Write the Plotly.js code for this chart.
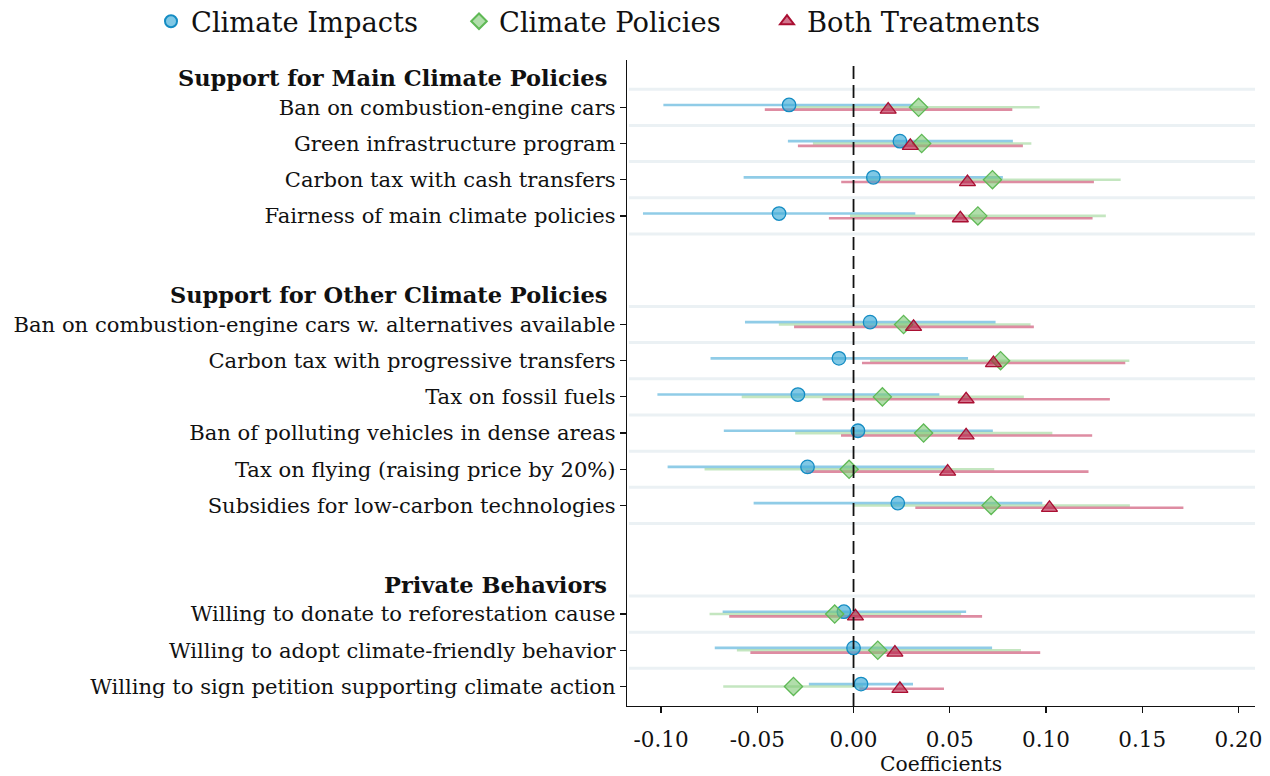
<!DOCTYPE html>
<html>
<head>
<meta charset="utf-8">
<script src="https://cdn.plot.ly/plotly-3.0.1.min.js"></script>
<style>html,body{margin:0;padding:0;background:#fff;}#chart{width:1270px;height:776px;}</style>
</head>
<body>
<div id="chart"></div>
<script>
// ---------- DATA ----------
const groupHeaders = ["Support for Main Climate Policies", "Support for Other Climate Policies", "Private Behaviors"];
const groupSizes = [4, 6, 3];
const outcomeLabels = [
  "Ban on combustion-engine cars",
  "Green infrastructure program",
  "Carbon tax with cash transfers",
  "Fairness of main climate policies",
  "Ban on combustion-engine cars w. alternatives available",
  "Carbon tax with progressive transfers",
  "Tax on fossil fuels",
  "Ban of polluting vehicles in dense areas",
  "Tax on flying (raising price by 20%)",
  "Subsidies for low-carbon technologies",
  "Willing to donate to reforestation cause",
  "Willing to adopt climate-friendly behavior",
  "Willing to sign petition supporting climate action"
];
const seriesNames = ["Climate Impacts", "Climate Policies", "Both Treatments"];

const impactsEst = [-0.0335, 0.0241, 0.0103, -0.0387, 0.0086, -0.0076, -0.0289, 0.0023, -0.0239, 0.0230, -0.0050, 0.0000, 0.0039];
const impactsLo  = [-0.0988, -0.0341, -0.0571, -0.1094, -0.0564, -0.0743, -0.1019, -0.0674, -0.0966, -0.0519, -0.0680, -0.0721, -0.0232];
const impactsHi  = [0.0310, 0.0828, 0.0776, 0.0321, 0.0738, 0.0595, 0.0446, 0.0724, 0.0490, 0.0981, 0.0585, 0.0720, 0.0309];

const policiesEst = [0.0338, 0.0354, 0.0722, 0.0646, 0.0260, 0.0764, 0.0150, 0.0364, -0.0023, 0.0715, -0.0098, 0.0126, -0.0312];
const policiesLo  = [-0.0300, -0.0211, 0.0064, -0.0018, -0.0388, 0.0086, -0.0581, -0.0303, -0.0774, -0.0003, -0.0748, -0.0606, -0.0677];
const policiesHi  = [0.0967, 0.0924, 0.1388, 0.1311, 0.0920, 0.1433, 0.0885, 0.1033, 0.0731, 0.1436, 0.0559, 0.0870, 0.0050];

const bothEst = [0.0180, 0.0295, 0.0592, 0.0555, 0.0312, 0.0727, 0.0585, 0.0585, 0.0489, 0.1018, 0.0010, 0.0215, 0.0241];
const bothLo  = [-0.0461, -0.0289, -0.0064, -0.0128, -0.0309, 0.0044, -0.0161, -0.0065, -0.0249, 0.0321, -0.0646, -0.0536, 0.0030];
const bothHi  = [0.0825, 0.0880, 0.1249, 0.1242, 0.0937, 0.1412, 0.1332, 0.1240, 0.1221, 0.1714, 0.0668, 0.0970, 0.0470];

const xTickVals = [-0.10, -0.05, 0.00, 0.05, 0.10, 0.15, 0.20];
const xTickText = ["-0.10", "-0.05", "0.00", "0.05", "0.10", "0.15", "0.20"];

// ---------- LAYOUT HELPERS ----------
const rowPos = [];
const headerPos = [];
let p = 0;
groupSizes.forEach((n) => {
  headerPos.push(p);
  for (let i = 0; i < n; i++) { p += 1; rowPos.push(p); }
  p += 2;
});

const FONT = "DejaVu Serif";
const off = 0.065;

const styles = [
  {sym: "circle", size: 13.5, fill: "rgba(60,170,215,0.65)", edge: "rgb(20,140,195)", bar: "rgba(70,170,215,0.6)", dy: -off},
  {sym: "diamond", size: 14, fill: "rgba(125,200,115,0.6)", edge: "rgb(95,185,85)", bar: "rgba(125,200,115,0.45)", dy: 0},
  {sym: "triangle-up", size: 14, fill: "rgba(180,25,65,0.6)", edge: "rgb(170,15,50)", bar: "rgba(195,45,85,0.55)", dy: off}
];
const ests = [impactsEst, policiesEst, bothEst];
const los = [impactsLo, policiesLo, bothLo];
const his = [impactsHi, policiesHi, bothHi];

const traces = [];
for (let s = 0; s < 3; s++) {
  traces.push({
    type: "scatter", mode: "markers",
    x: ests[s], y: rowPos.map(r => r + styles[s].dy),
    marker: {size: 1, color: "rgba(0,0,0,0)"},
    error_x: {type: "data", symmetric: false,
      array: his[s].map((h, i) => h - ests[s][i]),
      arrayminus: ests[s].map((e, i) => e - los[s][i]),
      color: styles[s].bar, thickness: 2.6, width: 0},
    showlegend: false, hoverinfo: "skip"
  });
}
for (let s = 0; s < 3; s++) {
  traces.push({
    type: "scatter", mode: "markers", name: seriesNames[s],
    x: ests[s], y: rowPos.map(r => r + styles[s].dy),
    marker: {symbol: styles[s].sym, size: styles[s].size, color: styles[s].fill,
      line: {color: styles[s].edge, width: 1.3}}
  });
}

const shapes = [];
groupSizes.forEach((n, g) => {
  const first = headerPos[g] + 1;
  for (let k = 0; k <= n; k++) {
    const yv = first - 0.5 + k;
    if (g === groupSizes.length - 1 && k === n) continue;
    shapes.push({type: "line", xref: "paper", yref: "y", x0: 0.003, x1: 1, y0: yv, y1: yv,
      line: {color: "#ebf1f4", width: 3}, layer: "below"});
  }
});
shapes.push({type: "line", xref: "x", yref: "paper", x0: 0, x1: 0, y0: 0, y1: 1,
  line: {color: "#111", width: 1.8, dash: "13px,6px"}, layer: "above"});

const annotations = groupHeaders.map((h, g) => ({
  xref: "paper", yref: "y", x: -0.0287, y: headerPos[g] + 0.19,
  xanchor: "right", yanchor: "middle", showarrow: false,
  text: "<b>" + h + "</b>", font: {family: FONT, size: 22.5, color: "#111"}
}));

const layout = {
  width: 1270, height: 776,
  margin: {l: 627, r: 15, t: 60, b: 70, autoexpand: false},
  paper_bgcolor: "#fff", plot_bgcolor: "#fff",
  font: {family: FONT, color: "#111"},
  showlegend: true,
  legend: {orientation: "h", xref: "paper", yref: "paper",
    x: (151 - 627) / 628, xanchor: "left", y: (706 + 3) / 646, yanchor: "top",
    entrywidth: 263, entrywidthmode: "pixels",
    font: {family: FONT, size: 27.3, color: "#111"}, itemsizing: "constant", traceorder: "normal",
    bgcolor: "rgba(0,0,0,0)"},
  xaxis: {range: [-0.1177, 0.2086], tickvals: xTickVals, ticktext: xTickText,
    showgrid: false, zeroline: false, showline: true, linecolor: "#111", linewidth: 1.2,
    ticks: "outside", ticklen: 6, tickcolor: "#111", tickwidth: 1.2, ticklabelstandoff: 8,
    tickfont: {family: FONT, size: 21.5, color: "#111"},
    title: {text: "Coefficients", font: {family: FONT, size: 20.3, color: "#111"}, standoff: 5}},
  yaxis: {range: [17.54, -0.307], tickvals: rowPos, ticktext: outcomeLabels,
    showgrid: false, zeroline: false, showline: true, linecolor: "#111", linewidth: 1.2,
    ticks: "outside", ticklen: 6, tickcolor: "#111", tickwidth: 1.2,
    tickfont: {family: FONT, size: 21.1, color: "#111"}},
  shapes: shapes,
  annotations: annotations
};

Plotly.newPlot("chart", traces, layout, {displayModeBar: false, staticPlot: true});
</script>
</body>
</html>
